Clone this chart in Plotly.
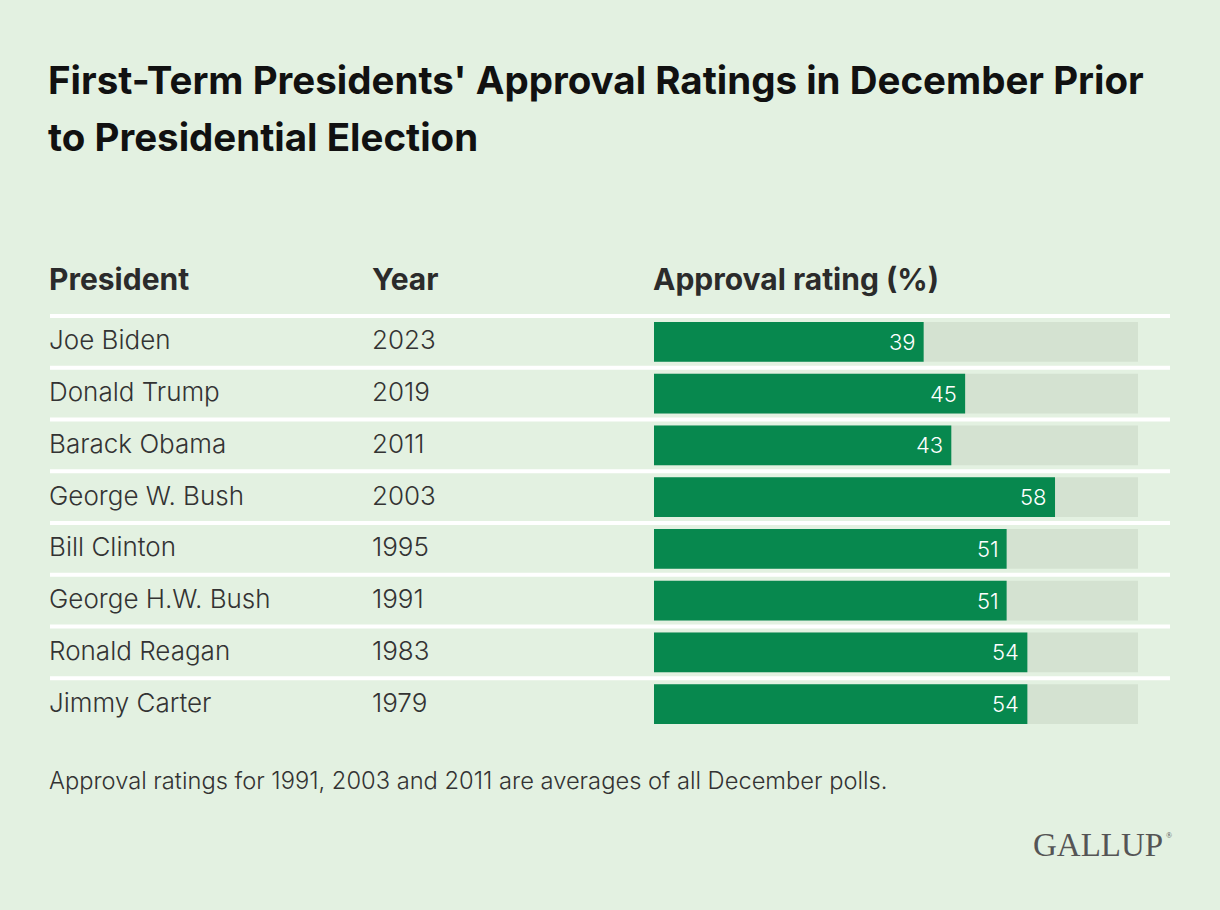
import plotly.graph_objects as go

W, H = 1220, 910

presidents = [
    "Joe Biden",
    "Donald Trump",
    "Barack Obama",
    "George W. Bush",
    "Bill Clinton",
    "George H.W. Bush",
    "Ronald Reagan",
    "Jimmy Carter",
]
years = ["2023", "2019", "2011", "2003", "1995", "1991", "1983", "1979"]
approval = [39, 45, 43, 58, 51, 51, 54, 54]
scale_max = 70

BG = "#e3f1e1"
GREEN = "#07884e"
TRACK = "#d4e2d1"
FONT = "Inter"


def px_x(x):
    return x / W


def px_y(y):
    return 1 - y / H


fig = go.Figure()

# background track
fig.add_trace(
    go.Bar(
        y=presidents,
        x=[scale_max] * len(presidents),
        orientation="h",
        marker=dict(color=TRACK, line=dict(width=0)),
        width=0.77,
        hoverinfo="skip",
        showlegend=False,
    )
)
fig.add_trace(
    go.Bar(
        y=presidents,
        x=approval,
        orientation="h",
        marker=dict(color=GREEN, line=dict(width=0)),
        width=0.77,
        showlegend=False,
    )
)

body_font = dict(family=FONT, size=26, color="#333333", weight=300)

annotations = []
for name, yr, val in zip(presidents, years, approval):
    annotations.append(dict(x=px_x(47), xref="paper", y=name, yref="y", text=name,
                            xanchor="left", yshift=2, showarrow=False, font=body_font))
    annotations.append(dict(x=px_x(370), xref="paper", y=name, yref="y", text=yr,
                            xanchor="left", yshift=2, showarrow=False, font=body_font))
    annotations.append(dict(x=val, xref="x", y=name, yref="y", text=str(val),
                            xanchor="right", xshift=-6, showarrow=False,
                            font=dict(family=FONT, size=22, color="white", weight=300)))

# headers
for label, xpos in [("President", 47), ("Year", 370), ("Approval rating (%)", 651)]:
    annotations.append(dict(x=px_x(xpos), xref="paper", y=px_y(279), yref="paper",
                            text=label, xanchor="left", yanchor="middle",
                            showarrow=False,
                            font=dict(family=FONT, size=30, color="#2b2b2b", weight=700)))

# title
title_font = dict(family=FONT, size=38.5, color="#111111", weight=700)
annotations.append(dict(x=px_x(46), xref="paper", y=px_y(80), yref="paper",
                        text="First-Term Presidents' Approval Ratings in December Prior",
                        xanchor="left", yanchor="middle", showarrow=False, font=title_font))
annotations.append(dict(x=px_x(46), xref="paper", y=px_y(137), yref="paper",
                        text="to Presidential Election",
                        xanchor="left", yanchor="middle", showarrow=False, font=title_font))

# footnote
annotations.append(dict(x=px_x(47), xref="paper", y=px_y(780), yref="paper",
                        text="Approval ratings for 1991, 2003 and 2011 are averages of all December polls.",
                        xanchor="left", yanchor="middle", showarrow=False,
                        font=dict(family=FONT, size=23.7, color="#333333", weight=300)))

# logo
annotations.append(dict(x=px_x(1165), xref="paper", y=px_y(845), yref="paper",
                        text="GALLUP", xanchor="right", yanchor="middle", showarrow=False,
                        font=dict(family="Liberation Serif", size=33, color="#555555")))
annotations.append(dict(x=px_x(1164), xref="paper", y=px_y(835), yref="paper",
                        text="®", xanchor="left", yanchor="middle", showarrow=False,
                        font=dict(family="Liberation Serif", size=8, color="#555555")))

# white separators above each row
shapes = []
for i in range(len(presidents)):
    shapes.append(dict(type="line", xref="paper", yref="y",
                       x0=px_x(50), x1=px_x(1170), y0=i - 0.5, y1=i - 0.5,
                       line=dict(color="white", width=4), layer="below"))

fig.update_layout(
    width=W,
    height=H,
    margin=dict(l=0, r=0, t=0, b=0),
    paper_bgcolor=BG,
    plot_bgcolor=BG,
    barmode="overlay",
    annotations=annotations,
    shapes=shapes,
    xaxis=dict(domain=[px_x(654), px_x(1138)], range=[0, scale_max],
               visible=False, fixedrange=True),
    yaxis=dict(domain=[px_y(730), px_y(314)], autorange="reversed",
               visible=False, fixedrange=True),
    font=dict(family=FONT),
)

fig.write_html(
    "out.html",
    config={"displayModeBar": False},
    post_script="document.body.style.margin='0';",
)
